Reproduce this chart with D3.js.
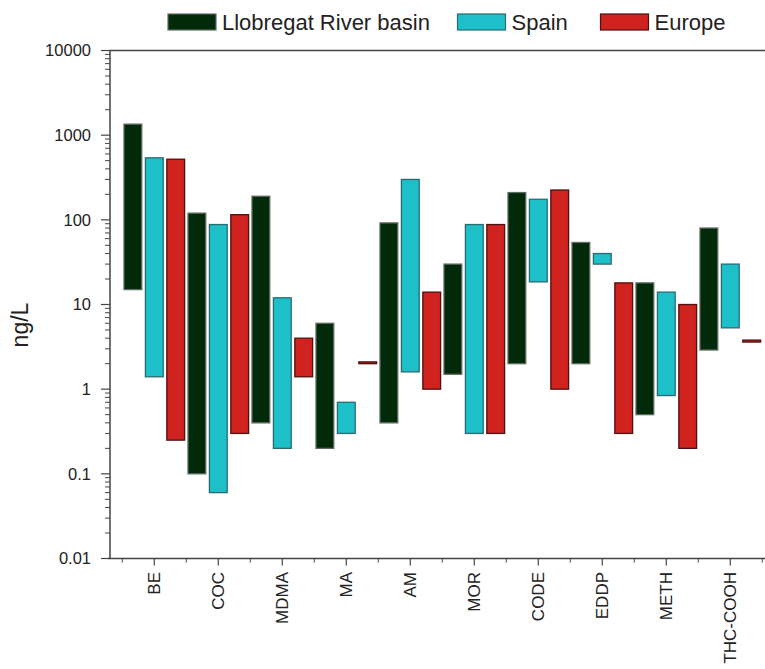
<!DOCTYPE html>
<html>
<head>
<meta charset="utf-8">
<script src="https://cdn.jsdelivr.net/npm/d3@7"></script>
<style>
  html, body { margin: 0; padding: 0; background: #fff; }
  svg { display: block; font-family: "Liberation Sans", Arial, sans-serif; }
</style>
</head>
<body>
<svg id="chart" width="765" height="669"></svg>
<script>
// Concentration ranges (ng/L) of illicit drugs and metabolites
const categories = ["BE", "COC", "MDMA", "MA", "AM", "MOR", "CODE", "EDDP", "METH", "THC-COOH"];
const seriesNames = ["Llobregat River basin", "Spain", "Europe"];

const llobregatMin = [15, 0.1, 0.4, 0.2, 0.4, 1.5, 2, 2, 0.5, 2.9];
const llobregatMax = [1350, 120, 190, 6, 92, 30, 210, 54, 18, 80];
const spainMin = [1.4, 0.06, 0.2, 0.3, 1.6, 0.3, 18.5, 30, 0.84, 5.3];
const spainMax = [540, 88, 12, 0.7, 300, 88, 175, 40, 14, 30];
const europeMin = [0.25, 0.3, 1.4, 2.0, 1.0, 0.3, 1.0, 0.3, 0.2, 3.6];
const europeMax = [520, 115, 4, 2.1, 14, 88, 225, 18, 10, 3.8];

const yTickValues = [10000, 1000, 100, 10, 1, 0.1, 0.01];
const yTickLabels = ["10000", "1000", "100", "10", "1", "0.1", "0.01"];

const fills = ["#012a0b", "#1dbfc8", "#d0221e"];
const strokes = ["#5d6b5f", "#2c6a70", "#4c1212"];

const mins = [llobregatMin, spainMin, europeMin];
const maxs = [llobregatMax, spainMax, europeMax];

const svg = d3.select("#chart");

const axisLeftX = 110;
const plotTop = 50.5, plotBottom = 558.5;

const y = d3.scaleLog().domain([0.01, 10000]).range([plotBottom, plotTop]);
const x0 = d3.scaleBand().domain(categories).range([122.3, 762.3]).paddingInner(0).paddingOuter(0);
const x1 = d3.scaleBand().domain(seriesNames).range([1.7, 62.3]).paddingInner(0.17).paddingOuter(0);

// Bars: one floating range per category and region
const rows = [];
categories.forEach((c, i) => {
  seriesNames.forEach((s, j) => {
    rows.push({ cat: c, ser: s, j, lo: mins[j][i], hi: maxs[j][i] });
  });
});

svg.append("g").selectAll("rect").data(rows).join("rect")
  .attr("x", d => x0(d.cat) + x1(d.ser))
  .attr("width", x1.bandwidth())
  .attr("y", d => y(d.hi))
  .attr("height", d => Math.max(1, y(d.lo) - y(d.hi)))
  .attr("fill", d => fills[d.j])
  .attr("stroke", d => strokes[d.j])
  .attr("stroke-width", 1.3);

// Frame lines
const axisColor = "#444";
svg.append("line").attr("x1", axisLeftX).attr("x2", 765).attr("y1", plotTop).attr("y2", plotTop)
  .attr("stroke", axisColor).attr("stroke-width", 1.5);
svg.append("line").attr("x1", axisLeftX).attr("x2", axisLeftX).attr("y1", plotTop).attr("y2", plotBottom)
  .attr("stroke", axisColor).attr("stroke-width", 1.5);
svg.append("line").attr("x1", 108).attr("x2", 765).attr("y1", plotBottom).attr("y2", plotBottom)
  .attr("stroke", axisColor).attr("stroke-width", 1.5);

// Y axis: major decade ticks with labels, minor ticks for 2..9
const yMinor = [];
for (let e = -2; e < 4; e++) {
  for (let k = 2; k <= 9; k++) yMinor.push(k * Math.pow(10, e));
}
svg.append("g").selectAll("line").data(yMinor).join("line")
  .attr("x1", axisLeftX - 5).attr("x2", axisLeftX)
  .attr("y1", d => y(d)).attr("y2", d => y(d))
  .attr("stroke", axisColor).attr("stroke-width", 1);
svg.append("g").selectAll("line").data(yTickValues).join("line")
  .attr("x1", axisLeftX - 9).attr("x2", axisLeftX)
  .attr("y1", d => y(d)).attr("y2", d => y(d))
  .attr("stroke", axisColor).attr("stroke-width", 1.2);
svg.append("g").selectAll("text").data(yTickValues).join("text")
  .attr("x", 91).attr("y", d => y(d)).attr("dy", "0.35em")
  .attr("text-anchor", "end").attr("font-size", 16.5).attr("fill", "#222")
  .text((d, i) => yTickLabels[i]);

// Y axis title
svg.append("text")
  .attr("transform", "translate(28,325) rotate(-90)")
  .attr("text-anchor", "middle").attr("font-size", 23).attr("fill", "#222")
  .text("ng/L");

// X axis: major ticks at group centres, minor ticks between groups
const xMinor = categories.map(c => x0(c)).concat([x0.range()[1]]);
svg.append("g").selectAll("line").data(xMinor).join("line")
  .attr("x1", d => d).attr("x2", d => d)
  .attr("y1", plotBottom).attr("y2", plotBottom + 4)
  .attr("stroke", axisColor).attr("stroke-width", 1);
svg.append("g").selectAll("line").data(categories).join("line")
  .attr("x1", d => x0(d) + x0.bandwidth() / 2).attr("x2", d => x0(d) + x0.bandwidth() / 2)
  .attr("y1", plotBottom).attr("y2", plotBottom + 7)
  .attr("stroke", axisColor).attr("stroke-width", 1.2);
svg.append("g").selectAll("text").data(categories).join("text")
  .attr("transform", d => `translate(${x0(d) + x0.bandwidth() / 2},572) rotate(-90)`)
  .attr("dy", "0.35em")
  .attr("text-anchor", "end").attr("font-size", 17).attr("fill", "#222")
  .text(d => d);

// Legend
const legendX = [168, 457.5, 600.5];
const legend = svg.append("g").selectAll("g").data(seriesNames).join("g")
  .attr("transform", (d, i) => `translate(${legendX[i]},14)`);
legend.append("rect")
  .attr("width", 48).attr("height", 16)
  .attr("fill", (d, i) => fills[i])
  .attr("stroke", (d, i) => strokes[i]).attr("stroke-width", 1.2);
legend.append("text")
  .attr("x", 54).attr("y", 16)
  .attr("font-size", 22).attr("fill", "#222")
  .text(d => d);
</script>
</body>
</html>
